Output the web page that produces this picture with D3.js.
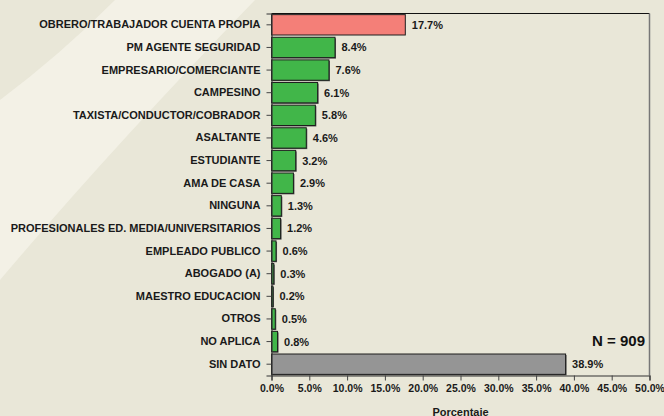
<!DOCTYPE html>
<html>
<head>
<meta charset="utf-8">
<script src="https://cdn.jsdelivr.net/npm/d3@7"></script>
<style>
  body { margin: 0; background: #e9e7d8; }
  svg { display: block; font-family: "Liberation Sans", Arial, sans-serif; font-weight: bold; }
</style>
</head>
<body>
<div id="chart"></div>
<script>
const categories = [
  "OBRERO/TRABAJADOR CUENTA PROPIA", "PM AGENTE SEGURIDAD", "EMPRESARIO/COMERCIANTE",
  "CAMPESINO", "TAXISTA/CONDUCTOR/COBRADOR", "ASALTANTE", "ESTUDIANTE", "AMA DE CASA",
  "NINGUNA", "PROFESIONALES ED. MEDIA/UNIVERSITARIOS", "EMPLEADO PUBLICO", "ABOGADO (A)",
  "MAESTRO EDUCACION", "OTROS", "NO APLICA", "SIN DATO"
];
const values = [17.7, 8.4, 7.6, 6.1, 5.8, 4.6, 3.2, 2.9, 1.3, 1.2, 0.6, 0.3, 0.2, 0.5, 0.8, 38.9];
const xTicks = [0, 5, 10, 15, 20, 25, 30, 35, 40, 45, 50];
const sampleLabel = "N = 909";
const axisTitle = "Porcentaje";

const width = 664, height = 416;
const margin = { top: 13.5, right: 14.5, bottom: 40.5, left: 271.5 };

const svg = d3.select("#chart").append("svg")
  .attr("width", width)
  .attr("height", height);

// background with lighter diagonal sweep
svg.append("rect").attr("width", width).attr("height", height).attr("fill", "#e9e7d8");
svg.append("path")
  .attr("d", "M115,0 Q60,55 0,100 L0,280 Q110,150 255,0 Z")
  .attr("fill", "#f3f1e6");

const x = d3.scaleLinear()
  .domain([0, 50])
  .range([margin.left, width - margin.right]);

const y = d3.scaleBand()
  .domain(categories)
  .range([margin.top, height - margin.bottom])
  .paddingInner(0.1)
  .paddingOuter(0.05);

const data = categories.map((c, i) => ({ cat: c, val: values[i] }));
const fillFor = (d, i) => i === 0 ? "#f47f78" : (i === categories.length - 1 ? "#959595" : "#41b649");

// frame: top black, right gray
svg.append("line")
  .attr("x1", margin.left).attr("x2", width - margin.right)
  .attr("y1", margin.top).attr("y2", margin.top)
  .attr("stroke", "#111").attr("stroke-width", 1.2);
svg.append("line")
  .attr("x1", width - margin.right).attr("x2", width - margin.right)
  .attr("y1", margin.top).attr("y2", height - margin.bottom)
  .attr("stroke", "#777").attr("stroke-width", 1.5);

// bar shadows
svg.selectAll(".shadow")
  .data(data.slice(1))
  .enter().append("rect")
  .attr("class", "shadow")
  .attr("x", x(0) + 1)
  .attr("y", d => y(d.cat) + 1)
  .attr("width", d => x(d.val) - x(0))
  .attr("height", y.bandwidth())
  .attr("fill", "#555");

svg.selectAll(".bar")
  .data(data)
  .enter().append("rect")
  .attr("class", "bar")
  .attr("x", x(0))
  .attr("y", d => y(d.cat))
  .attr("width", d => x(d.val) - x(0))
  .attr("height", y.bandwidth())
  .attr("fill", fillFor)
  .attr("stroke", "#1e1e1e")
  .attr("stroke-width", 1);

svg.selectAll(".val")
  .data(data)
  .enter().append("text")
  .attr("class", "val")
  .attr("x", d => x(d.val) + 6.5)
  .attr("y", d => y(d.cat) + y.bandwidth() / 2)
  .attr("dy", "0.36em")
  .attr("font-size", 11)
  .attr("fill", "#1a1a1a")
  .text(d => d.val.toFixed(1) + "%");

// axes
const yAxis = svg.append("g")
  .attr("transform", "translate(" + margin.left + ",0)")
  .call(d3.axisLeft(y).tickSize(5).tickPadding(6));
yAxis.select(".domain").attr("stroke", "#333").attr("stroke-width", 1.2);
yAxis.selectAll(".tick line").attr("stroke", "#444");
yAxis.selectAll("text")
  .attr("font-size", 11)
  .attr("font-family", "Liberation Sans, Arial, sans-serif")
  .attr("font-weight", "bold")
  .attr("fill", "#1a1a1a");

const xAxis = svg.append("g")
  .attr("transform", "translate(0," + (height - margin.bottom) + ")")
  .call(d3.axisBottom(x).tickValues(xTicks).tickSize(5).tickPadding(4)
    .tickFormat(d => d.toFixed(1) + "%"));
xAxis.select(".domain").attr("stroke", "#333").attr("stroke-width", 1.2);
xAxis.selectAll(".tick line").attr("stroke", "#444");
xAxis.selectAll("text")
  .attr("font-size", 10.5)
  .attr("font-family", "Liberation Sans, Arial, sans-serif")
  .attr("font-weight", "bold")
  .attr("fill", "#1a1a1a");

svg.append("text")
  .attr("x", (x(0) + x(50)) / 2)
  .attr("y", 415.5)
  .attr("text-anchor", "middle")
  .attr("font-size", 11)
  .attr("fill", "#1a1a1a")
  .text(axisTitle);

svg.append("text")
  .attr("x", 645)
  .attr("y", 345.5)
  .attr("text-anchor", "end")
  .attr("font-size", 15)
  .attr("fill", "#111")
  .text(sampleLabel);
</script>
</body>
</html>
